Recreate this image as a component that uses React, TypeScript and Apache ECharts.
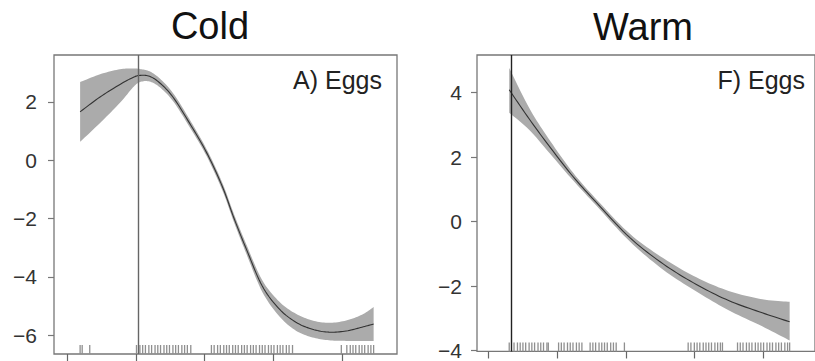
import React, { useEffect, useRef } from 'react';
import * as echarts from 'echarts';

// ---- Cold panel (A) Eggs) ----
const coldX = [0.19, 0.48, 0.77, 0.96, 1.06, 1.2, 1.35, 1.54, 1.78, 2.03, 2.26, 2.43, 2.61, 2.84, 3.09, 3.33, 3.57, 3.81, 4.06, 4.29, 4.46];
const coldMean = [1.66, 2.17, 2.6, 2.84, 2.91, 2.88, 2.65, 2.17, 1.28, 0.26, -0.91, -2.0, -3.06, -4.32, -5.11, -5.56, -5.8, -5.9, -5.86, -5.73, -5.62];
const coldLower = [0.63, 1.28, 1.97, 2.5, 2.68, 2.7, 2.5, 2.03, 1.15, 0.14, -1.04, -2.14, -3.22, -4.52, -5.36, -5.85, -6.08, -6.18, -6.2, -6.2, -6.2];
const coldUpper = [2.68, 2.95, 3.12, 3.15, 3.13, 3.05, 2.8, 2.31, 1.41, 0.38, -0.78, -1.86, -2.9, -4.12, -4.86, -5.27, -5.5, -5.58, -5.5, -5.3, -5.04];
const coldRug = [0.19, 0.22, 0.33,
  1.01, 1.06, 1.1, 1.14, 1.19, 1.23, 1.28, 1.32, 1.36, 1.41, 1.45, 1.49, 1.54, 1.58, 1.62, 1.67, 1.71, 1.75, 1.8,
  2.1, 2.14, 2.19, 2.23, 2.28, 2.32, 2.36, 2.41, 2.45, 2.49, 2.54, 2.58, 2.62, 2.67, 2.71, 2.75, 2.8, 2.84, 2.88, 2.93, 2.97, 3.01, 3.06, 3.1, 3.14, 3.19, 3.23, 3.28,
  3.99, 4.07, 4.12, 4.16, 4.2, 4.25, 4.29, 4.33, 4.38, 4.42, 4.46];
const coldRefLine = 1.04;
const coldYTicks = [-6, -4, -2, 0, 2];

// ---- Warm panel (F) Eggs) ----
const warmX = [0.3, 0.59, 0.87, 1.23, 1.59, 2.06, 2.55, 3.03, 3.5, 3.99, 4.39];
const warmMean = [4.09, 3.19, 2.38, 1.4, 0.55, -0.5, -1.32, -1.95, -2.45, -2.83, -3.11];
const warmLower = [3.38, 2.85, 2.17, 1.28, 0.45, -0.62, -1.5, -2.17, -2.75, -3.25, -3.69];
const warmUpper = [4.77, 3.53, 2.59, 1.52, 0.65, -0.38, -1.14, -1.73, -2.15, -2.41, -2.49];
const warmRug = [0.3, 0.37, 0.42, 0.46, 0.5, 0.54, 0.59, 0.63, 0.67, 0.72, 0.76, 0.8, 0.85, 0.87,
  1.02, 1.06, 1.1, 1.15, 1.19, 1.23, 1.28, 1.32, 1.36,
  1.48, 1.52, 1.56, 1.61, 1.65, 1.69, 1.73, 1.78, 1.82, 1.86, 1.98,
  2.91, 2.95, 3.0, 3.04, 3.08, 3.13, 3.17, 3.21, 3.25, 3.3, 3.34, 3.38, 3.41,
  3.63, 3.67, 3.71, 3.76, 3.8, 3.84, 3.89, 3.93, 3.97, 4.01, 4.06, 4.1, 4.14, 4.19, 4.23, 4.27, 4.32, 4.36, 4.39];
const warmRefLine = 0.33;
const warmYTicks = [-4, -2, 0, 2, 4];

const xTicks = [0, 1, 2, 3, 4];
const panelTitles = ['Cold', 'Warm'];
const panelLabels = ['A) Eggs', 'F) Eggs'];

const FONT = "'Liberation Sans', Arial, Helvetica, sans-serif";

const fmt = (v: number) => (v < 0 ? '\u2212' + Math.abs(v) : String(v));

// Catmull-Rom rendering of a pixel polyline (drawing only, data untouched)
function splinePx(pts: number[][], steps = 10): number[][] {
  const out: number[][] = [];
  const n = pts.length;
  for (let i = 0; i < n - 1; i++) {
    const p0 = pts[Math.max(0, i - 1)], p1 = pts[i], p2 = pts[i + 1], p3 = pts[Math.min(n - 1, i + 2)];
    for (let s = 0; s < steps; s++) {
      const t = s / steps, t2 = t * t, t3 = t2 * t;
      const f = (a: number, b: number, c: number, d: number) =>
        0.5 * (2 * b + (-a + c) * t + (2 * a - 5 * b + 4 * c - d) * t2 + (-a + 3 * b - 3 * c + d) * t3);
      out.push([f(p0[0], p1[0], p2[0], p3[0]), f(p0[1], p1[1], p2[1], p3[1])]);
    }
  }
  out.push(pts[n - 1]);
  return out;
}

function panelSeries(idx: number, xs: number[], mean: number[], lo: number[], hi: number[], rug: number[], ref: number, yMin: number, refColor: string) {
  return [
    {
      type: 'custom', xAxisIndex: idx, yAxisIndex: idx, z: 2,
      data: xs.map((x, i) => [x, lo[i], hi[i]]),
      renderItem: (params: any, api: any) => {
        if (params.dataIndex !== 0) return null;
        const up = xs.map((x, i) => api.coord([x, hi[i]]));
        const dn = xs.map((x, i) => api.coord([x, lo[i]]));
        const pts = splinePx(up).concat(splinePx(dn).reverse());
        return {
          type: 'polygon',
          shape: { points: pts },
          style: { fill: '#ababab', stroke: 'none' },
        };
      },
    },
    {
      type: 'custom', xAxisIndex: idx, yAxisIndex: idx, z: 3,
      data: xs.map((x, i) => [x, mean[i]]),
      renderItem: (params: any, api: any) => {
        if (params.dataIndex !== 0) return null;
        const pts = splinePx(xs.map((x, i) => api.coord([x, mean[i]])));
        return {
          type: 'polyline',
          shape: { points: pts },
          style: { stroke: '#333333', lineWidth: 1.1, fill: 'none' },
        };
      },
    },
    {
      type: 'line', xAxisIndex: idx, yAxisIndex: idx, symbol: 'none',
      lineStyle: { opacity: 0 }, data: [[ref, yMin]], z: 3,
      markLine: {
        silent: true, symbol: 'none', label: { show: false },
        lineStyle: { color: refColor, width: 1.4, type: 'solid' },
        data: [{ xAxis: ref }],
      },
    },
    {
      type: 'custom', xAxisIndex: idx, yAxisIndex: idx, z: 4,
      data: rug.map((x) => [x, yMin]),
      renderItem: (params: any, api: any) => {
        const p = api.coord([api.value(0), api.value(1)]);
        return {
          type: 'line',
          shape: { x1: p[0], y1: p[1], x2: p[0], y2: p[1] - 9 },
          style: { stroke: '#8f8f8f', lineWidth: 1.3 },
        };
      },
    },
  ];
}

function axisPair(idx: number, xmin: number, xmax: number, ymin: number, ymax: number, yTicks: number[], margin: number) {
  const x = {
    type: 'value', gridIndex: idx, min: xmin, max: xmax,
    axisLine: { show: false, onZero: false },
    splitLine: { show: false },
    axisTick: { show: true, length: 7, customValues: xTicks, lineStyle: { color: '#666', width: 1.2 } },
    axisLabel: { show: false },
  };
  const y = {
    type: 'value', gridIndex: idx, min: ymin, max: ymax,
    axisLine: { show: false, onZero: false },
    splitLine: { show: false },
    axisTick: { show: true, length: 6, customValues: yTicks, lineStyle: { color: '#777', width: 1.2 } },
    axisLabel: {
      customValues: yTicks, formatter: fmt, fontSize: 21, color: '#333', fontFamily: FONT, margin,
    },
  };
  return [x, y];
}

export default function App() {
  const ref = useRef<HTMLDivElement>(null);
  useEffect(() => {
    if (!ref.current) return;
    const chart = echarts.init(ref.current, undefined, { renderer: 'svg' });
    const coldYMin = -6.65, coldYMax = 3.61;
    const warmYMin = -4.03, warmYMax = 5.17;
    const [cx, cy] = axisPair(0, -0.19, 4.8, coldYMin, coldYMax, coldYTicks, 17);
    const [wx, wy] = axisPair(1, -0.17, 4.76, warmYMin, warmYMax, warmYTicks, 15);
    chart.setOption({
      animation: false,
      backgroundColor: '#ffffff',
      grid: [
        { left: 54, top: 55, width: 343, height: 299, show: true, borderColor: '#777', borderWidth: 1.3, backgroundColor: 'transparent' },
        { left: 477, top: 55, width: 344, height: 300, show: true, borderColor: '#777', borderWidth: 1.3, backgroundColor: 'transparent' },
      ],
      xAxis: [cx, wx],
      yAxis: [cy, wy],
      graphic: [
        { type: 'text', z: 100, x: 210, y: 26, style: { text: panelTitles[0], font: `38px ${FONT}`, fill: '#111', textAlign: 'center', textVerticalAlign: 'middle' } },
        { type: 'text', z: 100, x: 643, y: 27, style: { text: panelTitles[1], font: `38px ${FONT}`, fill: '#111', textAlign: 'center', textVerticalAlign: 'middle' } },
        { type: 'text', z: 100, x: 382, y: 80, style: { text: panelLabels[0], font: `25px ${FONT}`, fill: '#222', textAlign: 'right', textVerticalAlign: 'middle' } },
        { type: 'text', z: 100, x: 805, y: 80, style: { text: panelLabels[1], font: `25px ${FONT}`, fill: '#222', textAlign: 'right', textVerticalAlign: 'middle' } },
      ],
      series: [
        ...panelSeries(0, coldX, coldMean, coldLower, coldUpper, coldRug, coldRefLine, coldYMin, '#666'),
        ...panelSeries(1, warmX, warmMean, warmLower, warmUpper, warmRug, warmRefLine, warmYMin, '#222'),
      ],
    });
    return () => chart.dispose();
  }, []);
  return <div ref={ref} style={{ position: 'absolute', left: 0, top: 0, width: 815, height: 361, overflow: 'hidden' }} />;
}
